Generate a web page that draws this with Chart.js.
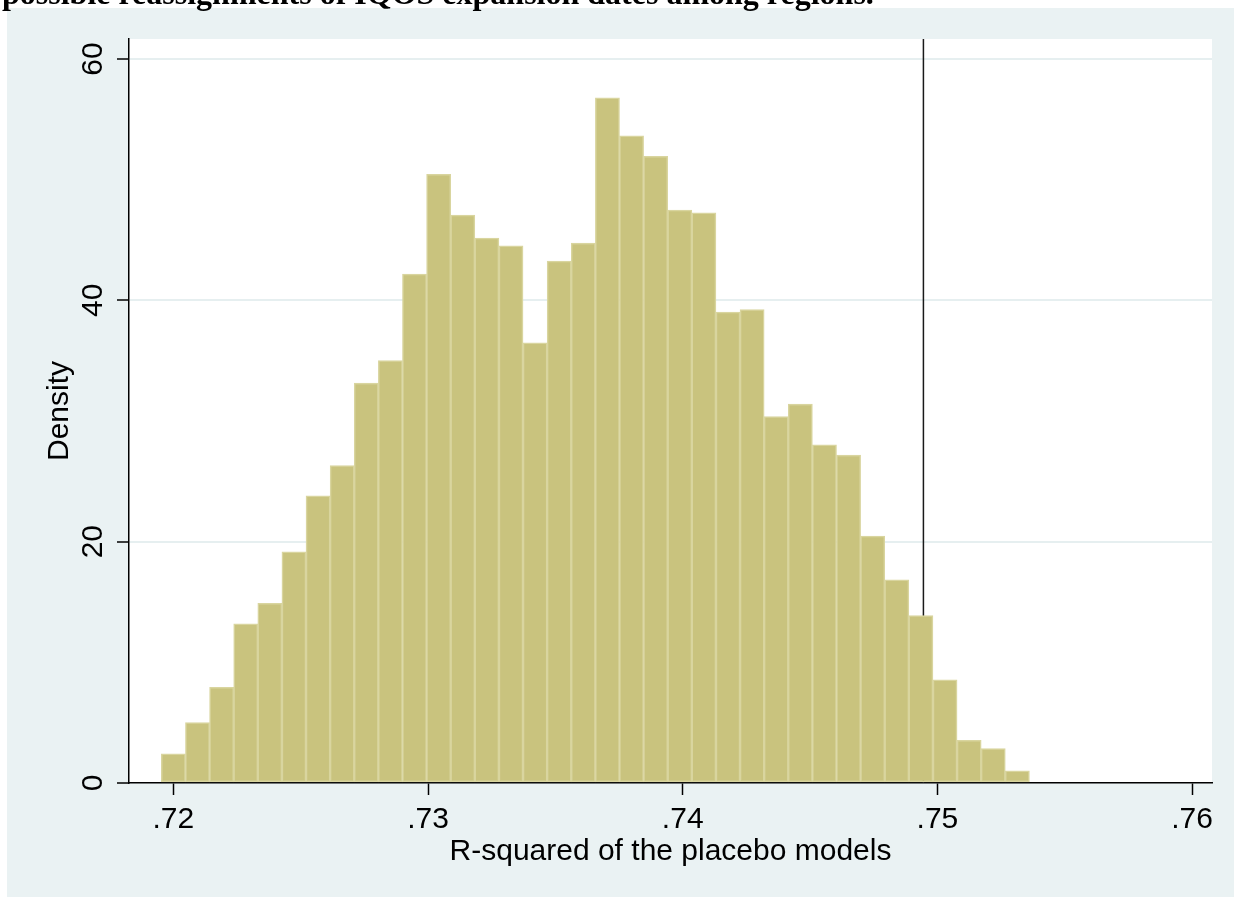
<!DOCTYPE html>
<html>
<head>
<meta charset="utf-8">
<script src="https://cdn.jsdelivr.net/npm/chart.js@4.4.1/dist/chart.umd.min.js"></script>
<style>
  html, body { margin: 0; padding: 0; background: #fff; }
  canvas { display: block; }
</style>
</head>
<body>
<canvas id="hist" width="1234" height="898"></canvas>
<script>
// histogram densities, one per bin, left to right
const densities = [2.42, 5.00, 7.93, 13.2, 14.9, 19.15, 23.8, 26.3, 33.15, 35.0,
  42.17, 50.44, 47.07, 45.16, 44.52, 36.47, 43.25, 44.75, 56.78, 53.63,
  51.93, 47.48, 47.26, 39.02, 39.24, 30.36, 31.41, 28.03, 27.18, 20.46,
  16.83, 13.87, 8.56, 3.53, 2.86, 1.01];
const binStart = 0.71953;   // lower edge of first bin
const binWidth = 0.0009467;
const actualR2 = 0.74945;   // R-squared of the real model (xline)
const xTicks = [0.72, 0.73, 0.74, 0.75, 0.76];
const yTicks = [0, 20, 40, 60];

const titleText = 'possible reassignments of IQOS expansion dates among regions.';
const font = '"Liberation Sans", Arial, Helvetica, sans-serif';

const binPoints = densities.map((d, i) => ({ x: binStart + (i + 0.5) * binWidth, y: d }));

// stata-like backdrop: light panel, white plot region, clipped caption on top
const backdrop = {
  id: 'backdrop',
  beforeDraw(chart) {
    const { ctx, chartArea: a } = chart;
    ctx.save();
    ctx.fillStyle = '#ffffff';
    ctx.fillRect(0, 0, chart.width, chart.height);
    ctx.fillStyle = '#eaf2f3';
    ctx.fillRect(7, 8, chart.width - 7, chart.height - 9);
    ctx.fillStyle = '#ffffff';
    ctx.fillRect(a.left, a.top, a.right - a.left, a.bottom - a.top);
    ctx.fillStyle = '#000';
    ctx.font = 'bold 32px "Liberation Serif", "Times New Roman", serif';
    ctx.textBaseline = 'alphabetic';
    ctx.fillText(titleText, 2, 4);
    ctx.restore();
  }
};

new Chart(document.getElementById('hist'), {
  type: 'bar',
  data: {
    datasets: [{
      type: 'bar',
      data: binPoints,
      backgroundColor: '#c9c37e',
      borderColor: '#d9d59f',
      borderWidth: 1.5,
      borderSkipped: false,
      barPercentage: 1,
      categoryPercentage: 1,
      order: 1
    }, {
      type: 'line',
      data: [{ x: actualR2, y: 0 }, { x: actualR2, y: 61.66 }],
      borderColor: '#1a1a1a',
      borderWidth: 1.5,
      pointRadius: 0,
      fill: false,
      order: 2
    }]
  },
  options: {
    responsive: false,
    animation: false,
    devicePixelRatio: 1,
    layout: { padding: { top: 39, right: 22, left: 0, bottom: 0 } },
    plugins: { legend: { display: false }, tooltip: { enabled: false } },
    scales: {
      x: {
        type: 'linear',
        min: 0.71826,
        max: 0.76078,
        offset: false,
        afterFit: s => { s.height = 115; },
        afterBuildTicks: s => { s.ticks = xTicks.map(v => ({ value: v })); },
        grid: { offset: false, drawOnChartArea: false, tickColor: '#000', tickLength: 12, tickWidth: 1.5 },
        border: { color: '#000', width: 1.5 },
        ticks: {
          color: '#000',
          padding: 7,
          maxRotation: 0,
          font: { family: font, size: 30 },
          callback: v => v.toFixed(2).replace(/^0/, '')
        },
        title: {
          display: true,
          text: 'R-squared of the placebo models',
          color: '#000',
          font: { family: font, size: 30 },
          padding: { top: 0, bottom: 28 }
        }
      },
      y: {
        min: 0,
        max: 61.66,
        afterFit: s => { s.width = 129; },
        afterBuildTicks: s => { s.ticks = yTicks.map(v => ({ value: v })); },
        grid: {
          color: c => (c.tick && c.tick.value === 0 ? 'rgba(0,0,0,0)' : '#e6eff0'),
          lineWidth: 2,
          tickColor: '#000',
          tickLength: 12,
          tickWidth: 1.5
        },
        border: { color: '#000', width: 1.5 },
        ticks: {
          color: '#000',
          padding: 7,
          minRotation: 90,
          maxRotation: 90,
          crossAlign: 'center',
          font: { family: font, size: 30 }
        },
        title: {
          display: true,
          text: 'Density',
          color: '#000',
          font: { family: font, size: 30 },
          padding: { top: 42, bottom: 0 }
        }
      }
    }
  },
  plugins: [backdrop]
});
</script>
</body>
</html>
